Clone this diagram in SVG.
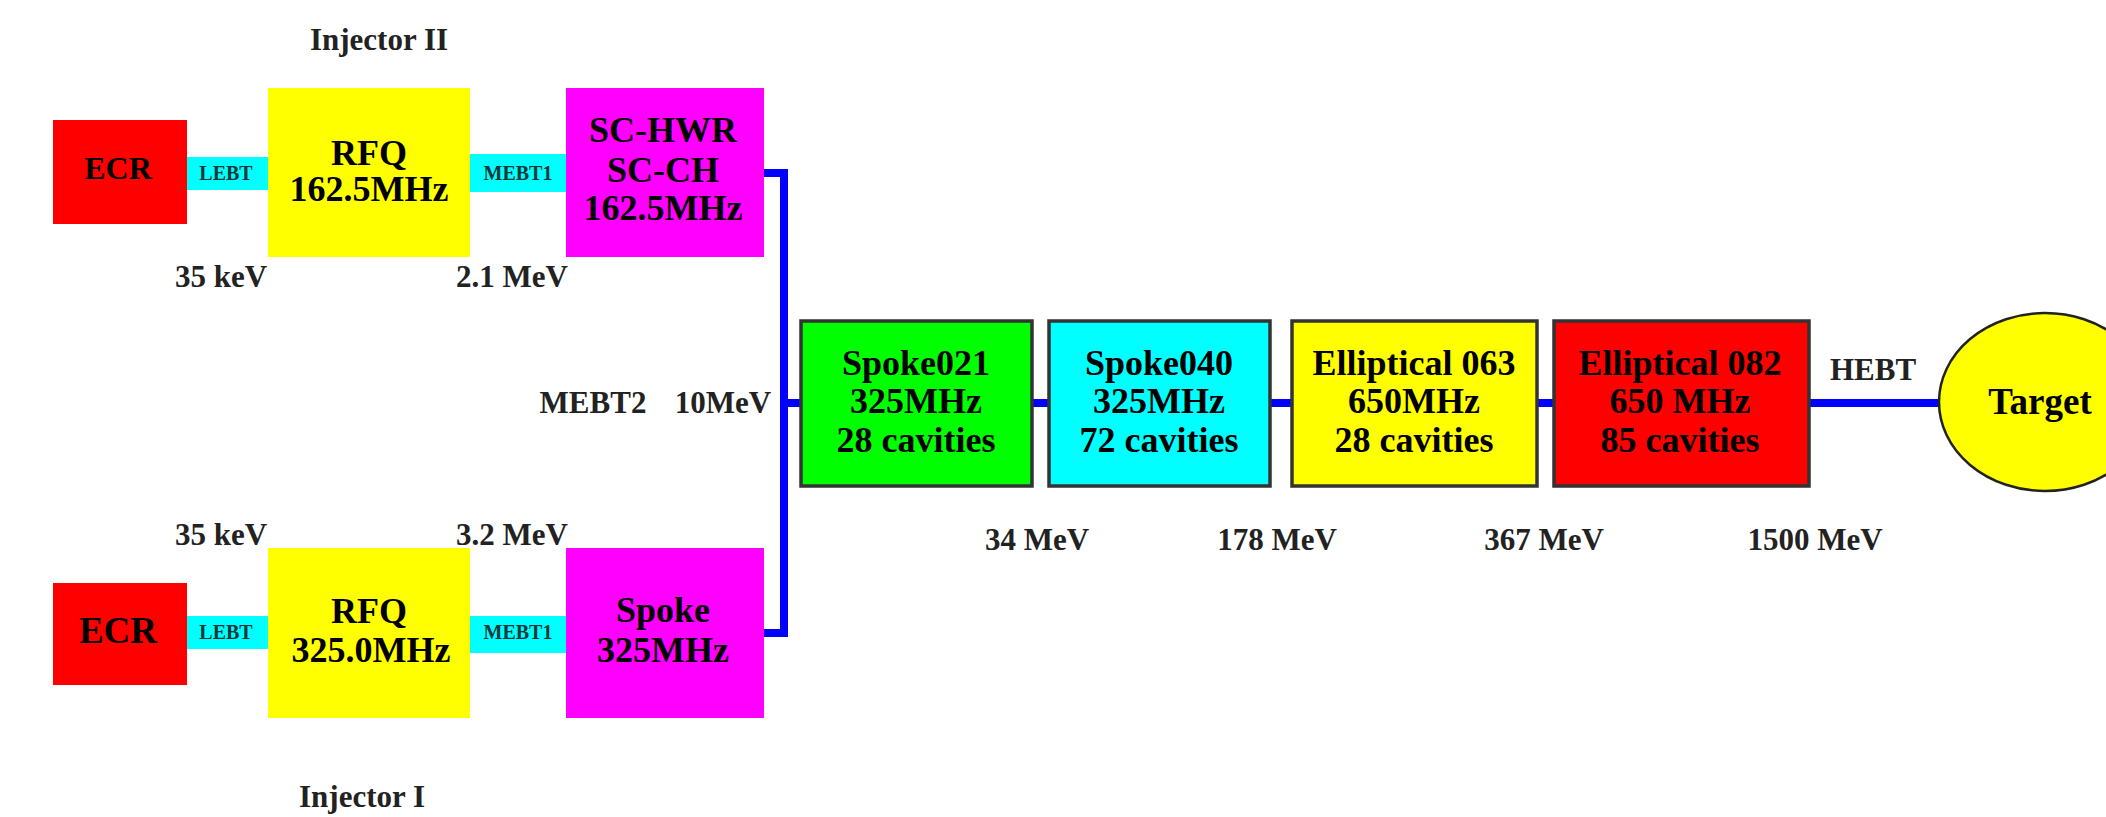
<svg xmlns="http://www.w3.org/2000/svg" width="2106" height="817" viewBox="0 0 2106 817">
<style>
text{font-family:"Liberation Serif","Times New Roman",serif;font-weight:bold;text-anchor:middle;fill:#000}
.lbl{font-size:31px;fill:#222}
.box{font-size:36px}
.small{font-size:20px;fill:#003838}
.big{stroke:#333;stroke-width:3.5}
.beam{fill:none;stroke:#0000ff;stroke-width:8;stroke-linejoin:miter}
</style>
<rect width="2106" height="817" fill="#fff"/>

<g id="connectors">
<path class="beam" d="M764,173 H784 V633 H764"/>
<path class="beam" d="M784,403 H801"/>
<path class="beam" d="M1032,403 H1049"/>
<path class="beam" d="M1270,403 H1292"/>
<path class="beam" d="M1537,403 H1554"/>
<path class="beam" d="M1809,403 H1940"/>
</g>

<g id="labels">
<text class="lbl" x="379" y="50">Injector II</text>
<text class="lbl" x="362" y="807">Injector I</text>
<text class="lbl" x="221" y="287">35 keV</text>
<text class="lbl" x="512" y="287">2.1 MeV</text>
<text class="lbl" x="221" y="545">35 keV</text>
<text class="lbl" x="512" y="545">3.2 MeV</text>
<text class="lbl" x="593" y="413">MEBT2</text>
<text class="lbl" x="723" y="413">10MeV</text>
<text class="lbl" x="1037" y="550">34 MeV</text>
<text class="lbl" x="1277" y="550">178 MeV</text>
<text class="lbl" x="1544" y="550">367 MeV</text>
<text class="lbl" x="1815" y="550">1500 MeV</text>
<text class="lbl" x="1873" y="380">HEBT</text>
</g>

<g id="ecr2"><rect x="53" y="120" width="134" height="104" fill="#ff0000"/><text x="118" y="179" style="font-size:32px">ECR</text></g>
<g id="lebt2"><rect x="187" y="157" width="81" height="33" fill="#00ffff"/><text class="small" x="226" y="180">LEBT</text></g>
<g id="rfq2"><rect x="268" y="88" width="202" height="169" fill="#ffff00"/><text class="box" x="369" y="165">RFQ</text><text class="box" x="369" y="201">162.5MHz</text></g>
<g id="mebt1-2"><rect x="470" y="154" width="96" height="38" fill="#00ffff"/><text class="small" x="518" y="180">MEBT1</text></g>
<g id="schwr"><rect x="566" y="88" width="198" height="169" fill="#ff00ff"/><text class="box" x="663" y="142">SC-HWR</text><text class="box" x="663" y="182">SC-CH</text><text class="box" x="663" y="220">162.5MHz</text></g>

<g id="ecr1"><rect x="53" y="583" width="134" height="102" fill="#ff0000"/><text x="118" y="643" style="font-size:37px">ECR</text></g>
<g id="lebt1"><rect x="187" y="616" width="81" height="33" fill="#00ffff"/><text class="small" x="226" y="639">LEBT</text></g>
<g id="rfq1"><rect x="268" y="548" width="202" height="170" fill="#ffff00"/><text class="box" x="369" y="623">RFQ</text><text class="box" x="371" y="662">325.0MHz</text></g>
<g id="mebt1-1"><rect x="470" y="616" width="96" height="37" fill="#00ffff"/><text class="small" x="518" y="639">MEBT1</text></g>
<g id="spoke"><rect x="566" y="548" width="198" height="170" fill="#ff00ff"/><text class="box" x="663" y="622">Spoke</text><text class="box" x="663" y="662">325MHz</text></g>

<g id="spoke021"><rect class="big" x="801" y="321" width="231" height="165" fill="#00ff00"/><text class="box" x="916" y="375">Spoke021</text><text class="box" x="916" y="413">325MHz</text><text class="box" x="916" y="452">28 cavities</text></g>
<g id="spoke040"><rect class="big" x="1049" y="321" width="221" height="165" fill="#00ffff"/><text class="box" x="1159" y="375">Spoke040</text><text class="box" x="1159" y="413">325MHz</text><text class="box" x="1159" y="452">72 cavities</text></g>
<g id="ell063"><rect class="big" x="1292" y="321" width="245" height="165" fill="#ffff00"/><text class="box" x="1414" y="375">Elliptical 063</text><text class="box" x="1414" y="413">650MHz</text><text class="box" x="1414" y="452">28 cavities</text></g>
<g id="ell082"><rect class="big" x="1554" y="321" width="255" height="165" fill="#ff0000"/><text class="box" x="1680" y="375">Elliptical 082</text><text class="box" x="1680" y="413">650 MHz</text><text class="box" x="1680" y="452">85 cavities</text></g>
<g id="target"><ellipse cx="2045" cy="402" rx="106" ry="89" fill="#ffff00" stroke="#222" stroke-width="2.5"/><text x="2040" y="414" style="font-size:37px">Target</text></g>
</svg>
